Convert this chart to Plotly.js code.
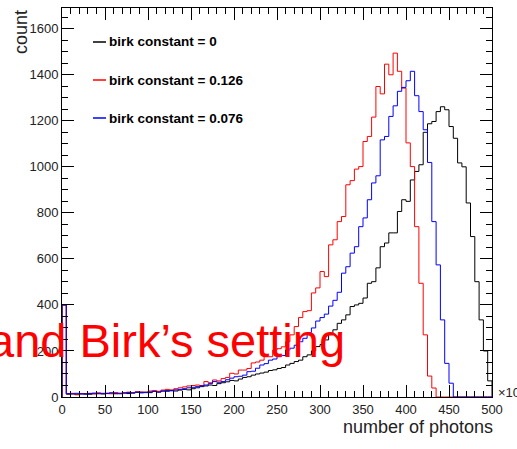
<!DOCTYPE html>
<html>
<head>
<meta charset="utf-8">
<script src="https://cdn.plot.ly/plotly-3.0.1.min.js"></script>
<style>html,body{margin:0;padding:0;background:#fff;}#chart{width:517px;height:449px;}</style>
</head>
<body>
<div id="chart"></div>
<script>
// ---- data (bin width 5, bins from 0 to 500) ----
const binWidth = 5;
const seriesNames = ["birk constant = 0", "birk constant = 0.126", "birk constant = 0.076"];
const seriesColors = ["#000000", "#ff0000", "#0000ff"];
const xTickLabels = ["0","50","100","150","200","250","300","350","400","450","500"];
const yTickLabels = ["0","200","400","600","800","1000","1200","1400","1600"];

const countsBirk0 = [
 400, 12, 14, 10, 13, 15, 12, 14, 16, 13,
 15, 17, 14, 16, 18, 15, 17, 20, 18, 21,
 19, 24, 22, 26, 25, 28, 26, 30, 33, 31,
 36, 40, 45, 48, 52, 50, 58, 62, 66, 72,
 70, 78, 85, 88, 95, 100, 104, 108, 115, 118,
 124, 128, 139, 146, 154, 160, 175, 183, 200, 219,
 228, 248, 270, 292, 320, 335, 357, 393, 400, 407,
 430, 494, 501, 561, 653, 669, 713, 713, 806, 857,
 850, 943, 980, 1009, 1150, 1187, 1197, 1240, 1261, 1248,
 1175, 1124, 1017, 1000, 843, 697, 501, 335, 200, 70
];
const countsBirk0126 = [
 400, 14, 16, 12, 15, 13, 16, 14, 18, 15,
 17, 14, 19, 16, 18, 21, 19, 23, 22, 20,
 26, 28, 25, 30, 33, 31, 36, 40, 44, 48,
 50, 52, 50, 67, 62, 74, 70, 80, 85, 103,
 100, 117, 117, 124, 148, 152, 160, 175, 175, 204,
 210, 218, 240, 270, 306, 345, 371, 375, 452, 474,
 545, 523, 661, 683, 762, 784, 922, 940, 990, 1001,
 1110, 1132, 1216, 1349, 1317, 1446, 1400, 1494, 1415, 1342,
 1104, 1001, 740, 494, 270, 91, 39, 0, 0, 0,
 0, 0, 0, 0, 0, 0, 0, 0, 0, 0
];
const countsBirk0076 = [
 400, 15, 13, 16, 14, 12, 15, 17, 14, 16,
 15, 18, 16, 14, 17, 19, 18, 21, 20, 19,
 22, 24, 21, 26, 28, 27, 31, 33, 36, 40,
 42, 45, 48, 52, 58, 67, 64, 67, 75, 82,
 88, 90, 95, 110, 112, 125, 139, 145, 160, 165,
 175, 180, 204, 212, 225, 240, 255, 280, 300, 330,
 345, 360, 395, 420, 455, 538, 566, 625, 653, 740,
 778, 857, 930, 961, 1117, 1132, 1219, 1265, 1328, 1345,
 1374, 1415, 1309, 1240, 1161, 1019, 762, 574, 335, 146,
 60, 0, 0, 0, 0, 0, 0, 0, 0, 0
];

// ---- build step outlines (ROOT-style histogram) ----
function stepTrace(counts, name, color) {
  const xs = [0], ys = [0];
  for (let i = 0; i < counts.length; i++) { xs.push(i * binWidth); ys.push(counts[i]); }
  const end = counts.length * binWidth;
  xs.push(end); ys.push(counts[counts.length - 1]);
  xs.push(end); ys.push(0);
  return {type: "scatter", mode: "lines", x: xs, y: ys, name: name,
          line: {color: color, width: 1, shape: "hv"}, showlegend: false, hoverinfo: "skip"};
}
const allCounts = [countsBirk0, countsBirk0126, countsBirk0076];
const traces = allCounts.map((c, i) => stepTrace(c, seriesNames[i], seriesColors[i]));

// ---- layout helpers (pixel -> paper) ----
const L = 62, R = 492, T = 8, B = 397;
const px = x => (x - L) / (R - L);
const py = y => (B - y) / (B - T);
const FONT = "Liberation Sans, Arial, Helvetica, sans-serif";

const legendY = [42, 80, 118];
const annotations = [
  {text: "count", xref: "paper", yref: "paper", x: px(21), y: 1, xanchor: "center", yanchor: "top",
   textangle: -90, showarrow: false, font: {family: FONT, size: 18, color: "#222"}},
  {text: "number of photons", xref: "paper", yref: "paper", x: px(495), y: py(427), xanchor: "right", yanchor: "middle",
   showarrow: false, font: {family: FONT, size: 18, color: "#222"}},
  {text: "×10<sup>3</sup>", xref: "paper", yref: "paper", x: px(496), y: py(392), xanchor: "left", yanchor: "middle",
   showarrow: false, font: {family: FONT, size: 13, color: "#222"}},
  {text: "and Birk’s setting", xref: "paper", yref: "paper", x: px(347), y: py(340), xanchor: "right", yanchor: "middle",
   showarrow: false, font: {family: FONT, size: 47, color: "#ff0000"}}
];
const shapes = [];
seriesNames.forEach((n, i) => {
  annotations.push({text: "<b>" + n + "</b>", xref: "paper", yref: "paper", x: px(107), y: py(legendY[i]),
    xanchor: "left", yanchor: "middle", showarrow: false, font: {family: FONT, size: 13.5, color: "#000"}});
  shapes.push({type: "line", xref: "paper", yref: "paper", x0: px(93), x1: px(106), y0: py(legendY[i]), y1: py(legendY[i]),
    line: {color: seriesColors[i], width: 1.5}});
});

const axisCommon = {
  showline: true, linecolor: "#000", linewidth: 1, mirror: "ticks",
  ticks: "inside", ticklen: 12, tickwidth: 1, tickcolor: "#000",
  showgrid: false, zeroline: false, fixedrange: true,
  tickfont: {family: FONT, size: 13, color: "#222"}
};

const layout = {
  width: 517, height: 449,
  margin: {l: L, r: 517 - R, t: T, b: 449 - B, pad: 0},
  paper_bgcolor: "#fff", plot_bgcolor: "#fff",
  showlegend: false,
  xaxis: Object.assign({}, axisCommon, {
    range: [0, 500], tickmode: "array",
    tickvals: xTickLabels.map(Number), ticktext: xTickLabels,
    minor: {dtick: 10, ticks: "inside", ticklen: 6, tickcolor: "#000", showgrid: false}
  }),
  yaxis: Object.assign({}, axisCommon, {
    range: [0, 1690], tickmode: "array",
    tickvals: yTickLabels.map(Number), ticktext: yTickLabels,
    minor: {dtick: 50, ticks: "inside", ticklen: 6, tickcolor: "#000", showgrid: false}
  }),
  annotations: annotations,
  shapes: shapes
};

Plotly.newPlot("chart", traces, layout, {staticPlot: true, displayModeBar: false});
</script>
</body>
</html>
